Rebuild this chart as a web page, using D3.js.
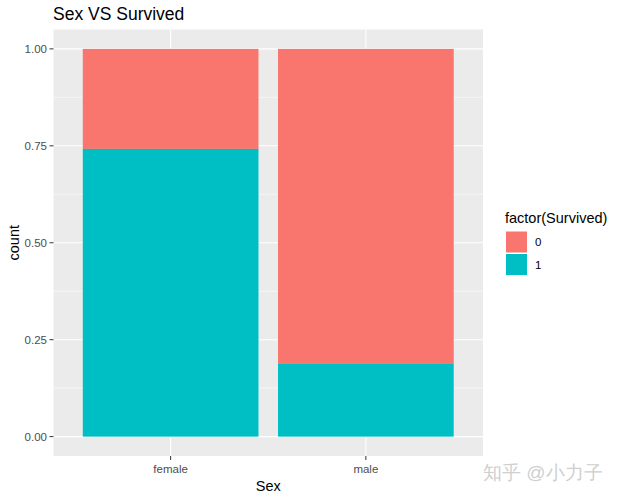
<!DOCTYPE html>
<html><head><meta charset="utf-8">
<script src="https://cdn.jsdelivr.net/npm/d3@7"></script>
<style>body{margin:0;background:#fff}svg{display:block}text{font-family:"Liberation Sans",Arial,sans-serif}</style>
</head><body><svg id="c" width="617" height="499"></svg>
<script>
const categories = ["female", "male"];
const survivedLevels = ["0", "1"];
const prop0 = [0.258, 0.811];
const prop1 = [0.742, 0.189];
const yTicks = [0, 0.25, 0.5, 0.75, 1.0];
const yMinor = [0.125, 0.375, 0.625, 0.875];
const colors = ["#F8766D", "#00BFC4"];

const svg = d3.select("#c");
const L = 53.5, R = 483, T = 29.5, B = 456;
const y = d3.scaleLinear().domain([-0.05, 1.05]).range([B, T]);
const xs = d3.scaleLinear().domain([0.4, categories.length + 0.6]).range([L, R]);

svg.append("rect").attr("x", L).attr("y", T).attr("width", R - L).attr("height", B - T).attr("fill", "#EBEBEB");
const g = svg.append("g");
yMinor.forEach(v => g.append("line").attr("x1", L).attr("x2", R).attr("y1", y(v)).attr("y2", y(v)).attr("stroke", "#fff").attr("stroke-width", 0.55));
yTicks.forEach(v => g.append("line").attr("x1", L).attr("x2", R).attr("y1", y(v)).attr("y2", y(v)).attr("stroke", "#fff").attr("stroke-width", 1.1));
categories.forEach((c, i) => g.append("line").attr("x1", xs(i + 1)).attr("x2", xs(i + 1)).attr("y1", T).attr("y2", B).attr("stroke", "#fff").attr("stroke-width", 1.1));

categories.forEach((c, i) => {
  const bw = xs(1.45) - xs(0.55);
  const x0 = xs(i + 1) - bw / 2;
  g.append("rect").attr("x", x0).attr("width", bw).attr("y", y(prop0[i] + prop1[i])).attr("height", y(prop1[i]) - y(prop0[i] + prop1[i])).attr("fill", colors[0]);
  g.append("rect").attr("x", x0).attr("width", bw).attr("y", y(prop1[i])).attr("height", y(0) - y(prop1[i])).attr("fill", colors[1]);
});

// y axis
const ya = svg.append("g");
yTicks.forEach(v => {
  ya.append("line").attr("x1", L - 4).attr("x2", L).attr("y1", y(v)).attr("y2", y(v)).attr("stroke", "#333").attr("stroke-width", 1);
  ya.append("text").attr("x", L - 6.5).attr("y", y(v)).attr("dy", "0.36em").attr("text-anchor", "end").attr("font-size", 11.5).attr("fill", "#4D4D4D").text(d3.format(".2f")(v));
});
// x axis
categories.forEach((c, i) => {
  svg.append("line").attr("x1", xs(i + 1)).attr("x2", xs(i + 1)).attr("y1", B).attr("y2", B + 4).attr("stroke", "#333");
  svg.append("text").attr("x", xs(i + 1)).attr("y", 473).attr("text-anchor", "middle").attr("font-size", 11.5).attr("fill", "#4D4D4D").text(c);
});
svg.append("text").attr("x", (L + R) / 2).attr("y", 490.5).attr("text-anchor", "middle").attr("font-size", 14.5).attr("fill", "#000").text("Sex");
svg.append("text").attr("transform", `translate(19,${(T + B) / 2}) rotate(-90)`).attr("text-anchor", "middle").attr("font-size", 14.5).attr("fill", "#000").text("count");
svg.append("text").attr("x", 53).attr("y", 19.5).attr("font-size", 17.5).attr("fill", "#000").text("Sex VS Survived");

// legend
const lg = svg.append("g");
lg.append("text").attr("x", 505).attr("y", 223).attr("font-size", 14.5).attr("fill", "#000").text("factor(Survived)");
survivedLevels.forEach((lv, i) => {
  lg.append("rect").attr("x", 506).attr("y", 231.5 + i * 22.5).attr("width", 21).attr("height", 21).attr("fill", colors[i]);
  lg.append("text").attr("x", 535).attr("y", 242 + i * 22.5).attr("dy", "0.36em").attr("font-size", 11.5).attr("fill", "#000").text(lv);
});

// watermark
svg.append("text").attr("x", 483).attr("y", 479).attr("font-size", 19).attr("fill", "#CFCFCF").attr("font-family", "Noto Sans CJK SC").text("知乎 @小力子");
</script></body></html>
